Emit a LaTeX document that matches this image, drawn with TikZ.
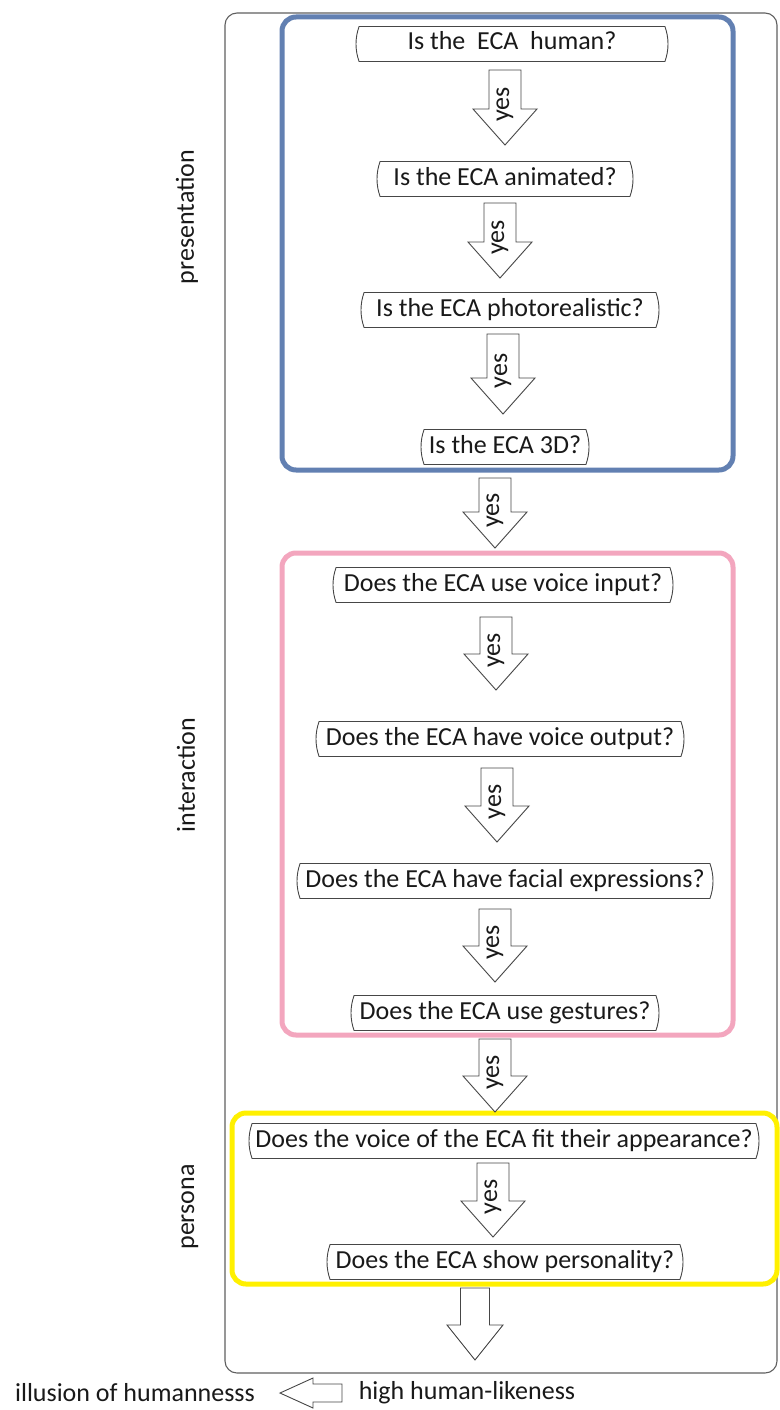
\documentclass[tikz,border=0pt]{standalone}
\usepackage{fontspec}
\setmainfont{Carlito}
\usetikzlibrary{shapes.misc}

\definecolor{framegray}{RGB}{95,95,95}
\definecolor{txt}{RGB}{25,25,25}
\definecolor{outl}{RGB}{70,70,70}
\definecolor{presblue}{RGB}{98,128,178}
\definecolor{interpink}{RGB}{243,166,190}
\definecolor{persyellow}{RGB}{255,240,0}

\begin{document}
\begin{tikzpicture}[x=1pt,y=-1pt,
  font=\fontsize{26}{30}\selectfont, text=txt,
  question/.style={rounded rectangle, rounded rectangle arc length=40,
    draw=outl, line width=0.9pt, fill=white, minimum height=35pt,
    inner xsep=4pt, inner ysep=0pt, text height=18pt, text depth=6pt},
  group/.style={rounded corners=14pt, line width=5pt},
  blockline/.style={draw=outl, line width=0.9pt, fill=white, line join=miter},
  sidelabel/.style={rotate=90, inner sep=0pt},
  % downward block arrow with a "yes" label, #1 = length
  pics/yesarrow/.style={code={
    \draw[blockline] (-16,0) -- (16,0) -- (16,{#1-36}) -- (32,{#1-36})
      -- (0,#1) -- (-32,{#1-36}) -- (-16,{#1-36}) -- cycle;
    \node[rotate=90, inner sep=0pt] (label) at (0,{0.46*#1}) {yes};
  }},
  % downward block arrow without label, #1 = length
  pics/plainarrow/.style={code={
    \draw[blockline] (-14.5,0) -- (14.5,0) -- (14.5,{#1-35}) -- (28,{#1-35})
      -- (0,#1) -- (-28,{#1-35}) -- (-14.5,{#1-35}) -- cycle;
  }},
]
\useasboundingbox (0,0) rectangle (779,1410);

% outer frame
\draw[framegray, line width=1.1pt, rounded corners=12pt] (225,13) rectangle (777,1373);

% category frames
\draw[group, presblue] (282,17) rectangle (733,470);
\draw[group, interpink] (282,553) rectangle (733,1035);
\draw[group, persyellow] (232,1113) rectangle (777,1284);

% category labels
\node[sidelabel] (lpres) at (187,217) {presentation};
\node[sidelabel] (linter) at (186,775) {interaction};
\node[sidelabel] (lpers) at (190,1207) {persona};

% block arrows
\pic (a1) at (505,70) {yesarrow=75};
\pic (a2) at (500,203) {yesarrow=75};
\pic (a3) at (503,334) {yesarrow=80};
\pic (a4) at (495,478) {yesarrow=70};
\pic (a5) at (496,617) {yesarrow=73};
\pic (a6) at (497,768) {yesarrow=74};
\pic (a7) at (495,909) {yesarrow=73};
\pic (a8) at (495,1039) {yesarrow=73};
\pic (a9) at (493,1163) {yesarrow=74};
\pic (a10) at (475,1288) {plainarrow=72};

% questions
\node[question, minimum width=320pt] (q1) at (512,44) {Is the\ \ ECA\ \ human?};
\node[question, minimum width=264pt] (q2) at (505,179) {Is the ECA animated?};
\node[question, minimum width=306pt] (q3) at (510,310) {Is the ECA photorealistic?};
\node[question, minimum width=176pt] (q4) at (505,447) {Is the ECA 3D?};
\node[question, minimum width=348pt] (q5) at (503,585) {Does the ECA use voice input?};
\node[question, minimum width=376pt] (q6) at (500,739) {Does the ECA have voice output?};
\node[question, minimum width=424pt] (q7) at (505,881) {Does the ECA have facial expressions?};
\node[question, minimum width=316pt] (q8) at (505,1013) {Does the ECA use gestures?};
\node[question, minimum width=518pt] (q9) at (504,1141) {Does the voice of the ECA fit their appearance?};
\node[question, minimum width=364pt] (q10) at (505,1262) {Does the ECA show personality?};

% scale at the bottom
\node[inner sep=0pt] (illusion) at (135,1393) {illusion of humannesss};
\node[inner sep=0pt] (likeness) at (467,1393) {high human-likeness};
\draw[blockline] (280,1393) -- (313,1378) -- (313,1384) -- (342,1384)
  -- (342,1402) -- (313,1402) -- (313,1408) -- cycle;
\end{tikzpicture}
\end{document}
